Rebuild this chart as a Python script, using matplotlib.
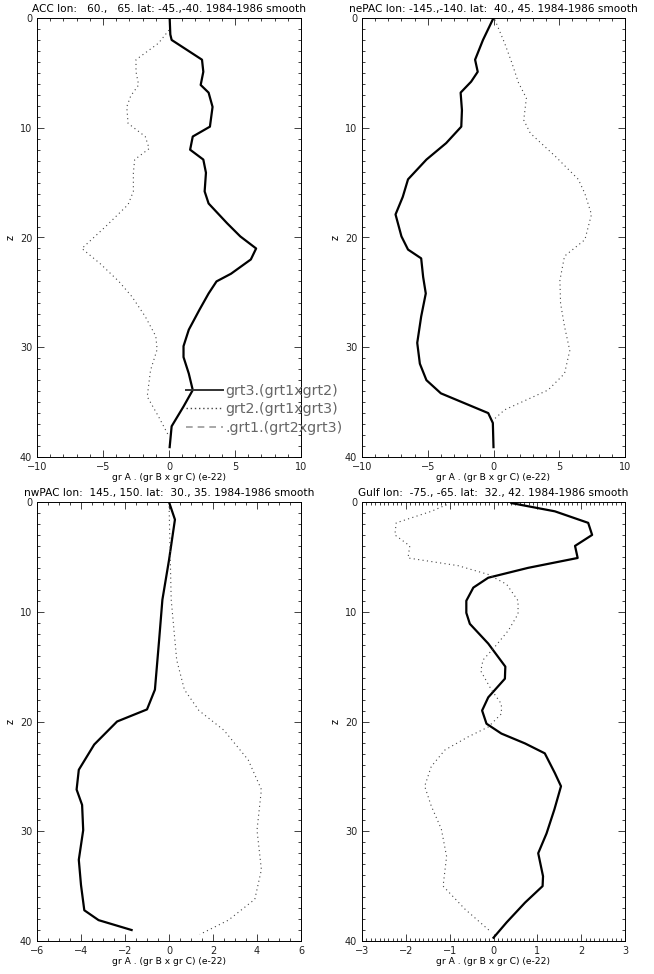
#!/usr/bin/env python3
"""Vertical profiles of the triple products for four regions (2x2 panels)."""

import matplotlib
matplotlib.use("Agg")
import matplotlib.pyplot as plt
from matplotlib.lines import Line2D
from matplotlib.ticker import MultipleLocator

# ---- ACC ----
acc_z3 = [0, 1.5, 2.0, 3.8, 4.9, 6.1, 6.8, 8.1, 9.9, 10.8, 12.0, 12.9, 14.1, 15.8, 16.9,
          18.7, 19.9, 21.0, 22.0, 23.3, 24.0, 25.1, 26.6, 28.4, 29.9, 30.9, 32.4, 33.9,
          35.4, 37.2, 39.1]
acc_g3 = [0.05, 0.1, 0.2, 2.5, 2.6, 2.4, 3.0, 3.3, 3.1, 1.8, 1.6, 2.6, 2.8, 2.7, 3.0,
          4.4, 5.4, 6.6, 6.2, 4.7, 3.6, 3.0, 2.3, 1.5, 1.1, 1.1, 1.5, 1.8,
          1.1, 0.2, 0.05]
acc_z2 = [1.1, 2.3, 3.8, 4.9, 6.1, 7.1, 8.1, 9.6, 10.8, 11.9, 12.9, 14.1, 15.8, 17.0,
          19.0, 21.0, 22.4, 24.0, 25.4, 27.2, 29.0, 30.2, 32.1, 34.5, 36.3, 37.9]
acc_g2 = [0.0, -0.8, -2.5, -2.5, -2.3, -2.9, -3.2, -3.1, -1.8, -1.5, -2.6, -2.7, -2.7, -3.1,
          -4.8, -6.6, -5.2, -3.8, -2.8, -1.8, -1.0, -0.9, -1.4, -1.65, -0.8, -0.1]

# ---- nePAC ----
nep_z3 = [0, 2.0, 3.8, 4.9, 5.8, 6.8, 8.4, 9.9, 11.4, 12.9, 14.7, 16.3, 17.9, 19.9, 21.1,
          21.9, 23.6, 25.1, 27.2, 29.6, 31.5, 33.0, 34.2, 35.1, 36.0, 36.9, 39.1]
nep_g3 = [0, -0.8, -1.4, -1.2, -1.7, -2.5, -2.4, -2.45, -3.6, -5.1, -6.5, -6.9, -7.45, -7.0, -6.5,
          -5.5, -5.35, -5.15, -5.5, -5.8, -5.6, -5.1, -4.0, -2.2, -0.4, -0.05, 0]
nep_z2 = [0.15, 2.3, 4.1, 5.9, 7.3, 9.3, 10.5, 12.6, 14.7, 16.0, 17.9, 20.2, 21.7, 23.9,
          26.0, 28.1, 30.3, 32.4, 33.9, 35.7, 36.5]
nep_g2 = [0.1, 0.85, 1.4, 1.9, 2.5, 2.3, 2.8, 4.7, 6.45, 6.95, 7.45, 6.95, 5.4, 5.05,
          5.1, 5.4, 5.8, 5.4, 4.15, 0.85, 0.1]

# ---- nwPAC ----
nwp_z3 = [0, 1.6, 5.3, 8.9, 12.6, 17.1, 18.9, 20.0, 22.1, 24.4, 26.2, 27.6, 29.9, 32.6,
          34.9, 37.2, 38.1, 39.0]
nwp_g3 = [0, 0.27, 0.0, -0.3, -0.45, -0.64, -1.0, -2.36, -3.4, -4.1, -4.2, -3.95, -3.9, -4.1,
          -4.0, -3.85, -3.2, -1.7]
nwp_z2 = [0, 8.9, 14.4, 17.1, 19.0, 20.8, 23.5, 26.2, 29.9, 33.5, 36.2, 38.1, 39.4]
nwp_g2 = [0, 0.1, 0.35, 0.7, 1.36, 2.5, 3.6, 4.2, 4.0, 4.2, 3.9, 2.7, 1.4]

# ---- Gulf ----
gulf_z3 = [0.1, 0.85, 1.9, 3.0, 4.0, 5.1, 6.0, 6.9, 7.8, 9.0, 10.1, 11.1, 12.9, 15.0, 16.1,
           17.8, 19.0, 20.2, 21.1, 22.0, 22.9, 24.7, 25.9, 28.0, 30.2, 32.0, 34.1, 35.0,
           36.5, 38.3, 39.7]
gulf_g3 = [0.41, 1.4, 2.16, 2.25, 1.86, 1.92, 0.79, -0.12, -0.46, -0.62, -0.62, -0.54, -0.12,
           0.27, 0.26, -0.12, -0.26, -0.16, 0.18, 0.72, 1.17, 1.4, 1.54, 1.39, 1.21, 1.02,
           1.13, 1.12, 0.72, 0.30, 0.0]
gulf_z2 = [0.25, 0.85, 1.9, 3.0, 4.0, 5.1, 5.8, 6.6, 7.5, 9.0, 10.2, 11.7, 13.2, 14.4, 15.4,
           17.1, 18.4, 19.3, 20.5, 21.4, 22.6, 24.1, 25.9, 27.7, 29.8, 32.3, 35.0, 37.1, 39.2]
gulf_g2 = [-1.07, -1.42, -2.22, -2.25, -1.91, -1.95, -0.81, -0.12, 0.30, 0.56, 0.56, 0.34,
           0.03, -0.24, -0.29, -0.05, 0.18, 0.18, -0.12, -0.58, -1.11, -1.42, -1.57, -1.42,
           -1.19, -1.07, -1.15, -0.65, -0.05]

titles = [
    "ACC lon:   60.,   65. lat: -45.,-40. 1984-1986 smooth",
    "nePAC lon: -145.,-140. lat:  40., 45. 1984-1986 smooth",
    "nwPAC lon:  145., 150. lat:  30., 35. 1984-1986 smooth",
    "Gulf lon:  -75., -65. lat:  32., 42. 1984-1986 smooth",
]
xlims = [(-10, 10), (-10, 10), (-6, 6), (-3, 3)]
xmajor = [5, 5, 2, 1]
xminor = [1, 1, 0.5, 0.1]
profiles = [
    (acc_z3, acc_g3, acc_z2, acc_g2),
    (nep_z3, nep_g3, nep_z2, nep_g2),
    (nwp_z3, nwp_g3, nwp_z2, nwp_g2),
    (gulf_z3, gulf_g3, gulf_z2, gulf_g2),
]
legend_labels = ["grt3.(grt1xgrt2)", "grt2.(grt1xgrt3)", ".grt1.(grt2xgrt3)"]

W, H = 654, 974
fig = plt.figure(figsize=(W / 100, H / 100), dpi=100)

# axes boxes in pixels: left, top, right, bottom
boxes = [(37, 18, 301, 457), (362, 18, 625, 457), (37, 502, 301, 941), (362, 502, 625, 941)]

axes = []
for i, (l, t, r, b) in enumerate(boxes):
    ax = fig.add_axes([l / W, 1 - b / H, (r - l) / W, (b - t) / H])
    z3, g3, z2, g2 = profiles[i]
    ax.plot(g3, z3, color="black", lw=1.6)
    ax.plot(g2, z2, color="#444444", lw=0.8, linestyle=(0, (1, 3)))
    ax.set_xlim(*xlims[i])
    ax.set_ylim(40, 0)
    ax.xaxis.set_major_locator(MultipleLocator(xmajor[i]))
    ax.xaxis.set_minor_locator(MultipleLocator(xminor[i]))
    ax.yaxis.set_major_locator(MultipleLocator(10))
    ax.yaxis.set_minor_locator(MultipleLocator(1))
    ax.tick_params(which="both", direction="in", top=True, right=True,
                   labelsize=7, width=0.6, colors="#222222")
    ax.tick_params(which="major", length=5)
    ax.tick_params(which="minor", length=2.5)
    for s in ax.spines.values():
        s.set_linewidth(0.7)
    ax.set_title(titles[i], fontsize=7.6, pad=4)
    ax.set_xlabel("gr A . (gr B x gr C) (e-22)", fontsize=6.6, labelpad=1)
    ax.set_ylabel("z", fontsize=7, labelpad=3)
    axes.append(ax)

handles = [
    Line2D([], [], color="#333333", lw=1.4),
    Line2D([], [], color="#444444", lw=1.0, linestyle=(0, (1, 2))),
    Line2D([], [], color="#999999", lw=1.2, linestyle=(0, (4, 3))),
]
leg = axes[0].legend(handles, legend_labels, loc="upper left",
                     bbox_to_anchor=(186 / W, 1 - 384 / H), bbox_transform=fig.transFigure,
                     frameon=False, fontsize=10.3, handlelength=2.6, handletextpad=0.15,
                     labelspacing=0.3, borderpad=0, borderaxespad=0)
for txt in leg.get_texts():
    txt.set_color("#666666")

fig.savefig("out.png", dpi=100)
